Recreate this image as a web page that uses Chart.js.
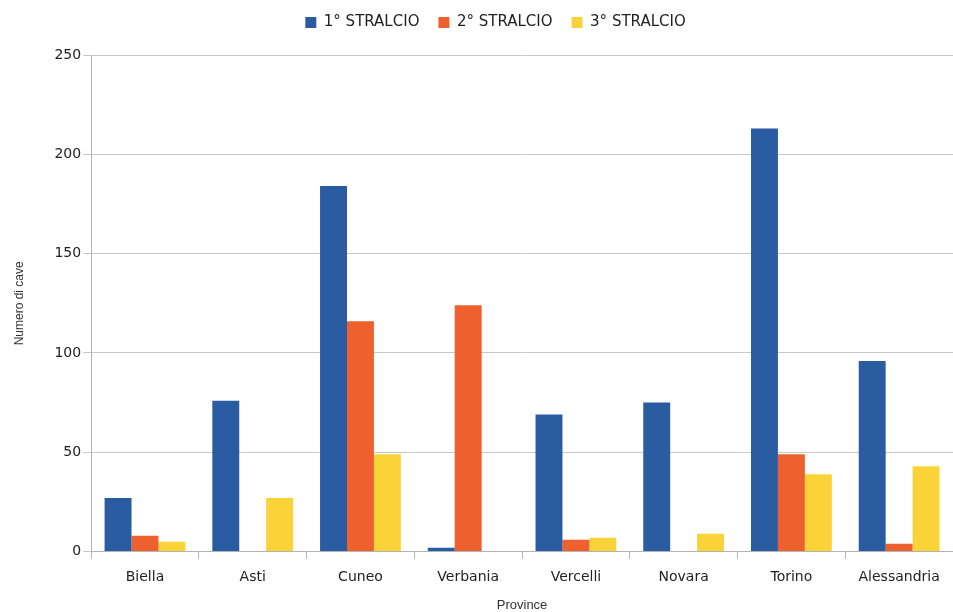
<!DOCTYPE html>
<html>
<head>
<meta charset="utf-8">
<script src="https://cdn.jsdelivr.net/npm/chart.js@4/dist/chart.umd.min.js"></script>
<style>
  html, body { margin: 0; padding: 0; background: #fff; }
  #wrap { width: 953px; height: 612px; }
</style>
</head>
<body>
<div id="wrap"><canvas id="chart"></canvas></div>
<script>
// Province e numero di cave per stralcio
const province = ['Biella', 'Asti', 'Cuneo', 'Verbania', 'Vercelli', 'Novara', 'Torino', 'Alessandria'];
const stralcio1 = [27, 76, 184, 2, 69, 75, 213, 96];
const stralcio2 = [8, 0, 116, 124, 6, 0, 49, 4];
const stralcio3 = [5, 27, 49, 0, 7, 9, 39, 43];
const yTicks = [0, 50, 100, 150, 200, 250];

// leaves extra room under the legend and nudges it right
const legendGap = {
    id: 'legendGap',
    beforeInit(chart) {
        const fit = chart.legend.fit;
        chart.legend.fit = function () {
            fit.bind(chart.legend)();
            this.height += 15;
        };
    },
    afterLayout(chart) {
        chart.legend.left += 15;
        chart.legend.right += 15;
    }
};

document.addEventListener("DOMContentLoaded", function () {
    const ctx = document.getElementById('chart').getContext('2d');

    const data = {
        labels: province,
        datasets: [{
            label: '1° STRALCIO',
            data: stralcio1,
            backgroundColor: '#2A5CA2'
        }, {
            label: '2° STRALCIO',
            data: stralcio2,
            backgroundColor: '#EE612E'
        }, {
            label: '3° STRALCIO',
            data: stralcio3,
            backgroundColor: '#F9D338'
        }]
    };

    const config = {
        type: 'bar',
        data: data,
        plugins: [legendGap],
        options: {
            responsive: true,
            maintainAspectRatio: false,
            animation: false,
            layout: { padding: { top: -4, right: 0, left: 8, bottom: -1 } },
            datasets: {
                bar: { barPercentage: 1, categoryPercentage: 0.75 }
            },
            plugins: {
                legend: {
                    position: 'top',
                    labels: {
                        boxWidth: 11,
                        boxHeight: 11,
                        padding: 19,
                        color: '#222',
                        font: { family: 'DejaVu Sans', size: 15 }
                    }
                },
                tooltip: { enabled: false }
            },
            scales: {
                x: {
                    grid: {
                        offset: true,
                        drawOnChartArea: false,
                        drawTicks: true,
                        tickLength: 7,
                        color: '#b3b3b3'
                    },
                    border: { color: '#b3b3b3' },
                    ticks: {
                        color: '#222',
                        padding: 10,
                        font: { family: 'DejaVu Sans', size: 14 }
                    },
                    title: {
                        display: true,
                        text: 'Province',
                        color: '#333',
                        padding: { top: 2, bottom: 0 },
                        font: { family: 'Liberation Sans', size: 13 }
                    }
                },
                y: {
                    min: 0,
                    max: 250,
                    afterBuildTicks: function (axis) {
                        axis.ticks = yTicks.map(v => ({ value: v }));
                    },
                    grid: {
                        color: '#c8c8c8',
                        tickLength: 8
                    },
                    border: { color: '#b3b3b3' },
                    ticks: {
                        color: '#222',
                        padding: 2,
                        font: { family: 'DejaVu Sans', size: 14 }
                    },
                    title: {
                        display: true,
                        text: 'Numero di cave',
                        color: '#333',
                        padding: { top: 4, bottom: 26 },
                        font: { family: 'Liberation Sans', size: 12 }
                    }
                }
            }
        }
    };

    new Chart(ctx, config);
});
</script>
</body>
</html>
